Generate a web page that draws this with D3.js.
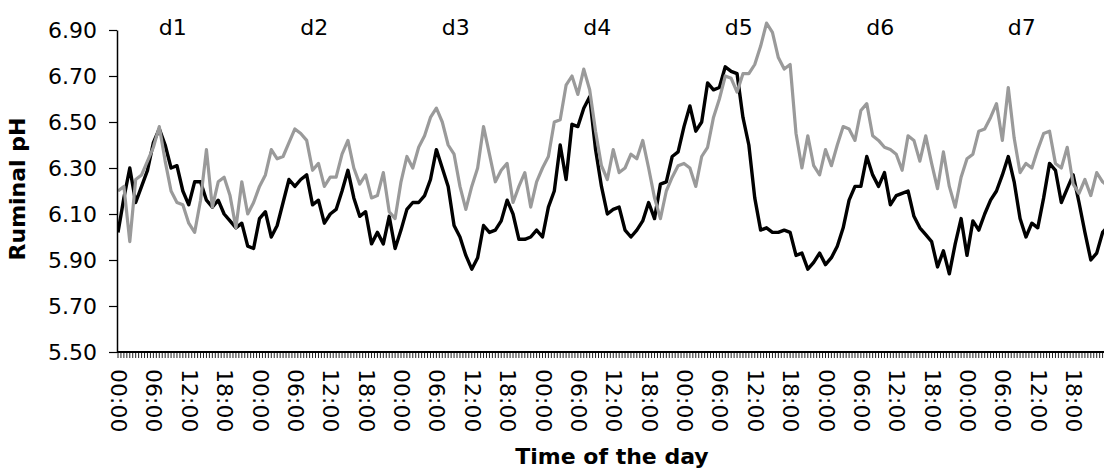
<!DOCTYPE html>
<html>
<head>
<meta charset="utf-8">
<script src="https://cdn.jsdelivr.net/npm/d3@7"></script>
<style>
  html, body { margin: 0; padding: 0; background: #ffffff; }
  svg { display: block; font-family: "DejaVu Sans", Verdana, sans-serif; }
</style>
</head>
<body>
<svg id="chart" width="1104" height="474"></svg>
<script>
// Hourly ruminal pH readings over seven days (hour 0 = 00:00 of d1).
const dayLabels = ["d1", "d2", "d3", "d4", "d5", "d6", "d7"];
const timeLabels = ["00:00", "06:00", "12:00", "18:00"];
const yTicks = [5.5, 5.7, 5.9, 6.1, 6.3, 6.5, 6.7, 6.9];

// Dark trace
const phDark = [
  6.02, 6.17, 6.30, 6.15, 6.22, 6.29, 6.41, 6.47, 6.40, 6.30, 6.31, 6.20, 6.14, 6.24, 6.24, 6.16, 6.13, 6.16, 6.10, 6.07, 6.04, 6.06, 5.96, 5.95,
  6.08, 6.11, 6.00, 6.05, 6.15, 6.25, 6.22, 6.25, 6.27, 6.14, 6.16, 6.06, 6.10, 6.12, 6.20, 6.29, 6.17, 6.09, 6.11, 5.97, 6.02, 5.97, 6.09, 5.95,
  6.03, 6.12, 6.15, 6.15, 6.18, 6.25, 6.38, 6.30, 6.22, 6.05, 6.00, 5.92, 5.86, 5.91, 6.05, 6.02, 6.03, 6.07, 6.16, 6.10, 5.99, 5.99, 6.00, 6.03,
  6.00, 6.13, 6.20, 6.40, 6.25, 6.49, 6.48, 6.56, 6.61, 6.38, 6.22, 6.10, 6.12, 6.13, 6.03, 6.00, 6.03, 6.07, 6.15, 6.08, 6.23, 6.24, 6.35, 6.37,
  6.48, 6.57, 6.46, 6.50, 6.67, 6.64, 6.65, 6.74, 6.72, 6.71, 6.52, 6.40, 6.17, 6.03, 6.04, 6.02, 6.02, 6.03, 6.02, 5.92, 5.93, 5.86, 5.89, 5.93,
  5.88, 5.91, 5.96, 6.04, 6.16, 6.22, 6.22, 6.35, 6.27, 6.22, 6.28, 6.14, 6.18, 6.19, 6.20, 6.09, 6.04, 6.01, 5.98, 5.87, 5.94, 5.84, 5.97, 6.08,
  5.92, 6.07, 6.03, 6.10, 6.16, 6.20, 6.27, 6.35, 6.24, 6.08, 6.00, 6.06, 6.04, 6.17, 6.32, 6.29, 6.15, 6.21, 6.27, 6.15, 6.02, 5.90, 5.93, 6.02, 6.05
];

// Light trace
const phLight = [
  6.20, 6.22, 5.98, 6.25, 6.27, 6.33, 6.39, 6.48, 6.33, 6.20, 6.15, 6.14, 6.06, 6.02, 6.16, 6.38, 6.13, 6.24, 6.26, 6.18, 6.04, 6.24, 6.10, 6.15,
  6.22, 6.27, 6.38, 6.34, 6.35, 6.41, 6.47, 6.45, 6.42, 6.29, 6.32, 6.22, 6.26, 6.26, 6.36, 6.42, 6.30, 6.23, 6.27, 6.17, 6.18, 6.28, 6.11, 6.08,
  6.24, 6.35, 6.30, 6.39, 6.44, 6.52, 6.56, 6.50, 6.40, 6.36, 6.22, 6.12, 6.22, 6.30, 6.48, 6.36, 6.24, 6.29, 6.32, 6.15, 6.22, 6.28, 6.13, 6.24,
  6.30, 6.35, 6.50, 6.51, 6.66, 6.70, 6.62, 6.73, 6.64, 6.46, 6.31, 6.25, 6.38, 6.28, 6.30, 6.36, 6.34, 6.42, 6.30, 6.17, 6.08, 6.20, 6.26, 6.31,
  6.32, 6.30, 6.22, 6.35, 6.39, 6.52, 6.60, 6.70, 6.69, 6.63, 6.71, 6.71, 6.75, 6.83, 6.93, 6.89, 6.78, 6.73, 6.75, 6.45, 6.30, 6.44, 6.31, 6.27,
  6.38, 6.31, 6.40, 6.48, 6.47, 6.42, 6.55, 6.58, 6.44, 6.42, 6.39, 6.38, 6.36, 6.29, 6.44, 6.42, 6.33, 6.44, 6.32, 6.21, 6.37, 6.22, 6.13, 6.26,
  6.34, 6.36, 6.46, 6.47, 6.52, 6.58, 6.42, 6.65, 6.43, 6.28, 6.32, 6.30, 6.38, 6.45, 6.46, 6.32, 6.30, 6.39, 6.23, 6.19, 6.25, 6.18, 6.28, 6.24, 6.22
];

const svg = d3.select("#chart");
const W = 1104, H = 474;

const x = d3.scaleLinear().domain([0, 168]).range([118, 1108.5]);
const y = d3.scaleLinear().domain([5.5, 6.9]).range([352, 30]);

svg.append("rect").attr("width", W).attr("height", H).attr("fill", "#ffffff");

svg.append("clipPath").attr("id", "plot-clip")
  .append("rect").attr("x", 117).attr("y", 0).attr("width", W - 117).attr("height", 352);

// Traces
const line = d3.line()
  .x((d, i) => x(i))
  .y(d => y(d));

const traces = svg.append("g").attr("clip-path", "url(#plot-clip)");
traces.append("path")
  .datum(phDark)
  .attr("d", line)
  .attr("fill", "none")
  .attr("stroke", "#000000")
  .attr("stroke-width", 3.4)
  .attr("stroke-linejoin", "round");
traces.append("path")
  .datum(phLight)
  .attr("d", line)
  .attr("fill", "none")
  .attr("stroke", "#9a9a9a")
  .attr("stroke-width", 3.2)
  .attr("stroke-linejoin", "round");

// Y axis
const yAxis = svg.append("g")
  .attr("transform", "translate(117,0)")
  .call(d3.axisLeft(y).tickValues(yTicks).tickFormat(d3.format(".2f")).tickSize(8).tickPadding(12).tickSizeOuter(0));
yAxis.select(".domain").attr("stroke", "#000").attr("stroke-width", 1.5);
yAxis.selectAll(".tick line").attr("stroke", "#000").attr("stroke-width", 1.2);
yAxis.selectAll(".tick text")
  .attr("fill", "#000")
  .style("font-family", "'DejaVu Sans', sans-serif")
  .style("font-size", "22px");

// X axis: half-hour tick band plus 6-hourly labels
const minorTicks = d3.range(0, 168.01, 0.5);
svg.append("g").selectAll("line")
  .data(minorTicks)
  .join("line")
  .attr("x1", d => x(d)).attr("x2", d => x(d))
  .attr("y1", 352).attr("y2", 358)
  .attr("stroke", "#222")
  .attr("stroke-width", 1);

const labelHours = d3.range(0, 168, 6);
const xAxis = svg.append("g")
  .attr("transform", "translate(0,352)")
  .call(d3.axisBottom(x).tickValues(labelHours)
    .tickFormat((d, i) => timeLabels[i % timeLabels.length])
    .tickSize(0).tickPadding(0));
xAxis.select(".domain").remove();
xAxis.selectAll(".tick text")
  .attr("fill", "#000")
  .attr("y", 0)
  .attr("dy", null)
  .attr("transform", "translate(0,17) rotate(90)")
  .attr("text-anchor", "start")
  .attr("dominant-baseline", "central")
  .style("font-family", "'DejaVu Sans', sans-serif")
  .style("font-size", "22px");

svg.append("line")
  .attr("x1", 117).attr("x2", W)
  .attr("y1", 352).attr("y2", 352)
  .attr("stroke", "#000").attr("stroke-width", 2);

// Day labels
svg.append("g").selectAll("text")
  .data(dayLabels)
  .join("text")
  .attr("x", (d, i) => x(i * 24 + 9.3))
  .attr("y", 35)
  .attr("text-anchor", "middle")
  .style("font-size", "22px")
  .attr("fill", "#000")
  .text(d => d);

// Axis titles
svg.append("text")
  .attr("x", 612).attr("y", 464)
  .attr("text-anchor", "middle")
  .style("font-size", "22px")
  .style("font-weight", "bold")
  .attr("fill", "#000")
  .text("Time of the day");

svg.append("text")
  .attr("transform", "translate(25,189) rotate(-90)")
  .attr("text-anchor", "middle")
  .style("font-size", "22px")
  .style("font-weight", "bold")
  .attr("fill", "#000")
  .text("Ruminal pH");
</script>
</body>
</html>
